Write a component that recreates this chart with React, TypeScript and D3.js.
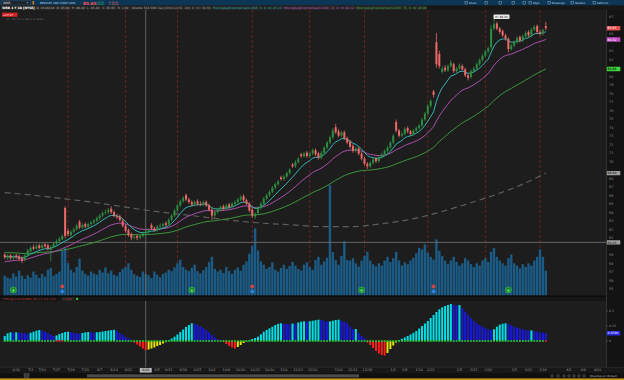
import React from "react";
import * as d3 from "d3";

// ---------- DATA ----------
const symbol = "WRB";
const company = "BERKLEY (WR) CORP COM";

const opens = [59.0,58.6,58.9,58.6,58.9,58.8,58.6,58.4,58.9,59.4,
59.9,59.7,60.1,59.8,60.2,60.1,59.6,59.9,60.3,60.6,
60.8,64.5,61.8,61.3,61.7,62.0,62.9,62.2,62.6,62.3,
62.6,62.8,63.0,63.3,63.6,63.9,64.0,64.4,64.0,63.5,
63.5,63.0,62.4,61.9,61.4,61.0,61.2,61.0,61.2,61.5,
61.7,62.5,62.1,61.9,62.3,62.4,62.7,62.6,63.1,63.6,
64.2,64.8,65.3,66.0,65.5,65.2,64.9,65.3,65.0,64.9,
65.2,64.8,64.3,63.6,64.0,64.3,64.7,64.4,64.9,64.6,
65.0,65.2,65.5,65.9,65.4,65.0,64.3,63.5,63.9,64.5,
65.0,65.6,66.0,66.4,66.9,67.3,68.1,67.9,68.2,68.6,
69.6,69.4,69.9,70.8,70.6,71.0,70.6,70.9,71.3,70.9,
70.4,71.0,71.6,72.2,72.8,74.0,73.5,73.0,73.4,72.7,
72.3,71.8,71.2,71.5,70.9,70.3,69.7,69.4,69.8,70.3,
70.0,70.5,70.8,71.2,71.6,72.2,74.6,73.6,73.0,73.2,
73.9,73.5,73.2,73.6,73.9,74.2,74.9,75.6,76.5,78.2,
84.0,82.6,80.5,81.0,80.7,81.2,81.4,80.6,80.9,81.2,
80.8,80.1,79.9,80.6,80.9,81.4,81.9,82.4,82.9,83.4,
85.6,86.2,85.6,85.3,84.8,84.4,83.2,83.6,84.0,84.6,
84.2,84.7,85.2,84.8,85.5,85.9,85.2,85.0,85.9];

const highs = [59.2,59.1,59.1,59.0,59.1,59.0,58.8,59.1,59.7,60.0,
60.2,60.3,60.3,60.4,60.4,60.3,60.1,60.5,60.8,61.1,
61.4,64.7,62.1,61.9,62.2,62.6,63.1,62.7,62.8,62.8,
63.0,63.2,63.5,63.8,64.1,64.3,64.5,64.7,64.2,63.8,
63.7,63.2,62.6,62.1,61.6,61.4,61.4,61.4,61.7,61.9,
62.1,62.7,62.3,62.5,62.7,62.8,62.9,63.3,63.8,64.4,
65.0,65.5,65.9,66.2,65.7,65.4,65.4,65.5,65.3,65.4,
65.4,65.0,64.5,64.2,64.5,64.8,64.9,65.0,65.1,65.2,
65.4,65.7,66.0,66.1,65.6,65.2,64.5,64.0,64.7,65.2,
65.8,66.2,66.6,67.1,67.5,67.8,68.3,68.4,68.8,69.2,
69.8,70.1,70.5,71.0,71.1,71.2,71.1,71.5,71.5,71.1,
71.2,71.8,72.4,73.0,73.9,74.4,73.8,73.6,73.6,72.9,
72.5,72.0,71.7,71.7,71.1,70.5,69.9,70.0,70.4,70.5,
70.7,71.0,71.4,71.8,72.4,73.2,74.9,73.8,73.5,74.0,
74.1,73.7,73.8,74.1,74.4,75.1,75.8,76.7,77.3,78.4,
85.1,83.0,81.2,81.3,81.4,81.9,81.6,81.1,81.5,81.4,
81.0,80.3,80.8,81.1,81.6,82.1,82.6,83.1,83.5,86.0,
86.6,86.4,85.8,85.5,85.0,84.6,83.8,84.2,84.7,84.8,
84.9,85.3,85.4,85.7,86.0,86.1,85.5,85.6,86.4];

const lows = [58.5,58.4,58.4,58.3,58.5,58.3,58.0,58.2,58.8,59.3,
59.5,59.6,59.6,59.7,59.8,59.5,58.2,59.8,60.1,60.4,
60.7,60.9,61.2,61.0,61.5,61.8,62.0,62.0,62.1,62.1,
62.4,62.6,62.8,63.1,63.4,63.7,63.8,63.8,63.4,63.2,
62.9,62.2,61.6,61.1,60.7,60.8,60.7,60.8,61.0,61.3,
61.5,61.9,61.7,61.7,62.1,62.2,62.3,62.4,62.9,63.4,
64.0,64.6,65.1,65.3,65.0,64.7,64.7,64.8,64.7,64.7,
64.6,64.1,63.1,63.4,63.8,64.1,64.2,64.2,64.4,64.4,
64.8,65.0,65.3,65.2,64.8,64.0,63.3,63.2,63.7,64.3,
64.8,65.4,65.8,66.2,66.7,67.1,67.7,67.7,68.0,68.4,
69.2,69.2,69.7,70.4,70.4,70.4,70.4,70.7,70.6,70.2,
70.2,70.8,71.4,72.0,72.6,73.2,72.8,72.8,72.5,72.0,
71.5,71.0,71.0,70.7,70.1,69.5,69.1,69.2,69.6,69.8,
69.8,70.3,70.6,71.0,71.4,72.0,73.4,72.8,72.8,73.0,
73.3,73.0,73.0,73.4,73.7,74.0,74.7,75.4,76.3,77.5,
81.0,80.9,80.3,80.5,80.5,81.0,80.4,80.4,80.7,80.6,
79.9,79.5,79.7,80.4,80.7,81.2,81.7,82.2,82.7,83.2,
85.4,85.4,85.0,84.6,84.2,82.8,83.0,83.4,83.8,84.0,
84.0,84.5,84.6,84.6,85.3,85.0,84.8,84.8,85.4];

const closes = [58.7,58.9,58.6,58.8,58.7,58.5,58.3,58.9,59.5,59.8,
59.7,60.0,59.8,60.1,60.0,59.7,59.9,60.3,60.6,60.9,
61.2,61.2,61.4,61.7,62.0,62.4,62.2,62.5,62.3,62.6,
62.8,63.0,63.3,63.6,63.9,64.0,64.3,64.0,63.6,63.4,
63.1,62.4,61.8,61.3,61.0,61.1,61.0,61.2,61.5,61.7,
61.9,62.1,61.9,62.3,62.4,62.6,62.5,63.1,63.6,64.2,
64.8,65.3,65.7,65.5,65.2,64.9,65.2,65.0,64.9,65.2,
64.8,64.3,63.6,64.0,64.3,64.6,64.4,64.8,64.6,65.0,
65.2,65.5,65.8,65.4,65.0,64.2,63.6,63.8,64.5,65.0,
65.6,66.0,66.4,66.9,67.3,67.6,67.9,68.2,68.6,69.0,
69.4,69.9,70.3,70.6,70.9,70.6,70.9,71.3,70.8,70.4,
71.0,71.6,72.2,72.8,73.6,73.4,73.0,73.4,72.7,72.2,
71.7,71.2,71.5,70.9,70.3,69.7,69.4,69.8,70.2,70.0,
70.5,70.8,71.2,71.6,72.2,73.0,73.6,73.0,73.2,73.8,
73.5,73.2,73.6,73.9,74.2,74.9,75.6,76.5,77.1,77.8,
81.4,81.2,80.9,80.7,81.2,81.6,80.6,80.9,81.3,80.8,
80.1,79.8,80.6,80.9,81.4,81.9,82.4,82.9,83.3,85.6,
86.1,85.6,85.2,84.8,84.4,83.2,83.6,84.0,84.5,84.2,
84.7,85.1,84.8,85.5,85.8,85.2,85.0,85.4,85.65];

// volume in thousands of shares
const volumes = [430,390,370,480,410,540,430,360,440,390,
520,450,380,470,410,560,600,430,470,520,
980,1030,700,560,500,620,800,540,470,430,
520,480,450,560,500,610,480,540,450,420,
510,580,620,700,560,460,430,400,520,470,
440,380,520,450,400,470,500,560,530,610,
700,780,620,560,530,600,670,530,480,550,
620,730,840,580,520,560,490,620,530,470,
560,610,540,670,740,910,1080,1460,980,740,
670,580,620,720,560,520,600,670,580,640,
730,650,580,540,670,720,620,560,770,840,
670,740,820,2400,940,770,670,860,1180,770,
760,810,700,630,760,860,950,760,680,630,
700,650,760,840,730,810,950,760,650,720,
680,760,820,920,1030,1000,1110,930,840,780,
1220,970,860,760,680,760,840,730,650,700,
810,760,680,620,700,650,760,810,730,950,
1030,840,760,700,650,810,890,700,650,590,
680,620,700,650,760,840,1000,840,540];

// TTM squeeze momentum histogram
const squeeze = [0.05,0.077,0.087,0.083,0.087,0.083,0.08,0.077,0.073,0.083,
0.093,0.103,0.11,0.103,0.093,0.08,0.065,0.05,0.055,0.07,
0.08,0.09,0.093,0.087,0.083,0.077,0.073,0.08,0.087,0.09,
0.086,0.083,0.087,0.09,0.095,0.10,0.104,0.108,0.112,0.10,
0.08,0.06,0.04,0.025,0.008,-0.015,-0.035,-0.055,-0.075,-0.09,
-0.085,-0.075,-0.065,-0.05,-0.04,-0.025,-0.012,0.01,0.025,0.043,
0.065,0.09,0.115,0.14,0.16,0.177,0.172,0.162,0.148,0.13,
0.11,0.085,0.06,0.035,0.018,0.006,-0.01,-0.03,-0.05,-0.065,
-0.075,-0.06,-0.04,-0.02,-0.005,0.01,0.02,0.03,0.043,0.067,
0.093,0.11,0.127,0.143,0.16,0.172,0.177,0.173,0.17,0.167,
0.175,0.172,0.185,0.193,0.197,0.193,0.198,0.203,0.208,0.213,
0.21,0.202,0.193,0.196,0.203,0.21,0.213,0.205,0.193,0.177,
0.143,0.117,0.12,0.077,0.05,0.027,-0.015,-0.04,-0.07,-0.10,
-0.125,-0.14,-0.145,-0.12,-0.08,-0.045,-0.015,0.008,0.022,0.035,
0.05,0.065,0.082,0.10,0.125,0.15,0.175,0.20,0.23,0.26,
0.29,0.317,0.337,0.35,0.36,0.37,0.363,0.355,0.36,0.327,
0.293,0.26,0.227,0.203,0.177,0.16,0.143,0.127,0.117,0.11,
0.117,0.143,0.163,0.173,0.177,0.17,0.157,0.143,0.133,0.123,
0.117,0.11,0.103,0.106,0.097,0.092,0.087,0.082,0.078];
const squeezeOnIdx = [18, 19, 20, 188];
const squeezeTicks = [0, 0.15, 0.3];

// daily SMA(200) sampled every 10 bars
const sma200Idx = [0,10,20,30,40,50,60,70,80,90,100,110,120,130,140,150,160,170,180,188];
const sma200 = [66.3,66.0,65.6,65.2,64.7,64.2,63.8,63.4,63.0,62.7,62.5,62.3,62.3,62.6,63.1,63.9,64.9,66.0,67.3,68.6];

const emaPeriods = [8, 21, 55];
const emaSeeds = [58.8, 58.1, 59.3];

const expirationIdx = [22, 42, 60, 86, 106, 125, 147, 167, 186];
const dateLabels = ["6/26","7/3","7/10","7/17","7/24","7/31","8/7","8/14","8/21","9/5","9/11","9/18","9/25","10/2","10/9","10/16","10/23","10/30","11/6","11/13","11/20","12/4","12/11","12/18","1/2","1/8","1/16","1/22","2/5","2/12","2/20","3/5","3/12","3/19","4/2","4/9","4/16"];
const dateIdx = [4,9,13,18,23,28,33,38,43,53,57,62,67,72,77,82,87,92,97,102,107,116,121,126,135,139,144,148,158,163,168,177,182,187,196,201,206];
const earningsIdx = [3, 65, 124, 175];
const dividendIdx = [20, 86, 149];
const priceLevel = 60.45;
const crosshairIdx = 49;
const crosshairLabel = "8/29";

function ema(vals: number[], period: number, seed: number) {
  const a = 2 / (period + 1);
  let prev = seed;
  return vals.map((v) => (prev = prev + a * (v - prev)));
}

export default function App() {
  const N = closes.length;
  const last = N - 1;
  const W = 624, H = 380;
  const plotR = 606;
  const paneTop = 10, paneBot = 296;
  const lowTop = 301, lowBot = 367;

  const x = d3.scaleLinear().domain([0, N - 1]).range([4.7, 545.8]);
  const yP = d3.scaleLinear().domain([55, 87]).range([288.7, 16.7]);
  const yV = d3.scaleLinear().domain([0, 2400]).range([295.5, 185]);
  const yS = d3.scaleLinear().domain([-0.26, 0.4]).range([lowBot, lowTop]);

  const emas = emaPeriods.map((p, k) => ema(closes, p, emaSeeds[k]));
  const emaColors = ["#35b6b6", "#ac4fac", "#3d963d"];
  const lineGen = d3.line<number>().x((_, i) => x(i)).y((v) => yP(v));
  const smaGen = d3.line<number>().x((_, j) => x(sma200Idx[j])).y((v) => yP(v)).curve(d3.curveMonotoneX);
  const fmt = d3.format(".2f");

  const UP = "#2c8c3f", DN = "#ef6868";
  const bw = 2.0;

  const sqColor = (i: number) => {
    const v = squeeze[i];
    const p = i > 0 ? squeeze[i - 1] : v;
    if (v >= 0) return v >= p ? "#00dfe6" : "#1818dc";
    return v <= p ? "#ff1c1c" : "#e4e400";
  };

  // study label row
  const fs2 = 3.0;
  const items = [
    { t: `${symbol} 1 Y 1D [NYSE]`, c: "#ffffff", bold: true },
    { t: `D: 03/20/18`, c: "#bbbbbb" },
    { t: `O: ${fmt(opens[last])}`, c: "#bbbbbb" },
    { t: `H: ${fmt(highs[last])}`, c: "#bbbbbb" },
    { t: `L: ${fmt(lows[last])}`, c: "#bbbbbb" },
    { t: `C: ${fmt(closes[last])}`, c: "#bbbbbb" },
    { t: `R: ${fmt(highs[last] - lows[last])}`, c: "#bbbbbb" },
    { t: `Volume`, c: "#bbbbbb" },
    { t: d3.format(",")(volumes[last] * 1000 + 4509), c: "#bbbbbb" },
    { t: `DailySMA(CLOSE, 200, 0, no)`, c: "#9a9a9a" },
    { t: fmt(sma200[sma200.length - 1]), c: "#9a9a9a" },
    { t: `MovingAvgExponential(CLOSE, 8, 0, no)`, c: emaColors[0] },
    { t: fmt(emas[0][last]), c: emaColors[0] },
    { t: `MovingAvgExponential(CLOSE, 21, 0, no)`, c: "#c060c0" },
    { t: fmt(emas[1][last]), c: "#c060c0" },
    { t: `MovingAvgExponential(CLOSE, 55, 0, no)`, c: "#4fb04f" },
    { t: fmt(emas[2][last]), c: "#4fb04f" },
  ];
  let cx = 1;
  const boxes = items.map((it) => {
    const w = it.t.length * (it.bold ? 1.85 : 1.55) + 2.4;
    const b = { ...it, x: cx, w };
    cx += w + 0.5;
    return b;
  });

  const axisMarks = [
    { v: closes[last], fill: "#e0504f", tc: "#fff" },
    { v: emas[1][last], fill: "#c34ec3", tc: "#fff" },
    { v: emas[2][last], fill: "#3fd23f", tc: "#000" },
    { v: sma200[sma200.length - 1], fill: "#a0a0a0", tc: "#000" },
    { v: priceLevel, fill: "#a0a0a0", tc: "#000" },
  ];
  const priceTicks = yP.ticks(32).filter((t) => axisMarks.every((m) => Math.abs(yP(t) - yP(m.v)) > 4.2));

  const iconTexts = [
    { t: "Share", x: 469 },
    { t: "Style", x: 533 },
    { t: "Drawings", x: 552 },
    { t: "Studies", x: 575 },
    { t: "Patterns", x: 597 },
  ];

  const hiVal = d3.max(highs) as number;
  const hiIdx = highs.indexOf(hiVal);

  return (
    <div style={{ width: W, height: H }}>
      <style>{`html,body{margin:0;padding:0;background:#1c1c1c;}`}</style>
      <svg width={W} height={H} style={{ display: "block", fontFamily: '"DejaVu Sans", sans-serif' }}>
        <rect x={0} y={0} width={W} height={H} fill="#1d1d1d" />

        {/* top header */}
        <rect x={0} y={0} width={W} height={5.5} fill="#0c3656" />
        <rect x={1.5} y={0.7} width={29} height={4.2} fill="#1b2530" stroke="#4a5a6a" strokeWidth={0.3} />
        <text x={3} y={3.9} fontSize={3.1} fill="#e0e0e0">{symbol}</text>
        <path d="M26.5,2.3 L28.5,2.3 L27.5,3.5 Z" fill="#aaa" />
        <rect x={32.5} y={1} width={1.6} height={3.6} fill="#c87a22" />
        <text x={40} y={3.7} fontSize={2.7} fill="#c9d6e2">{company}</text>
        <text x={83} y={4.5} fontSize={4.3} fontWeight="bold" fill="#ff5656">{fmt(closes[last])}</text>
        <text x={97} y={2.5} fontSize={2.2} fill="#3ccf6a">{`+0.05`}</text>
        <text x={97} y={4.8} fontSize={2.2} fill="#3ccf6a">{`0.06%`}</text>
        <text x={109} y={2.5} fontSize={2.2} fill="#ff6a6a">{`B: 85.61`}</text>
        <text x={109} y={4.8} fontSize={2.2} fill="#ff6a6a">{`A: 85.69`}</text>
        {iconTexts.map((d, k) => (
          <g key={k}>
            <rect x={d.x - 4} y={1.4} width={2.6} height={2.6} fill="none" stroke="#c8d4e0" strokeWidth={0.35} />
            <text x={d.x} y={3.7} fontSize={2.7} fill="#d5dde5">{d.t}</text>
          </g>
        ))}
        {[485, 499, 512, 523].map((px, k) => (
          <rect key={k} x={px} y={1.3} width={2.8} height={2.8} fill="none" stroke="#c8d4e0" strokeWidth={0.35} />
        ))}

        {/* study label row */}
        <rect x={0} y={5.5} width={W} height={4.5} fill="#171717" />
        {boxes.map((b, k) => (
          <g key={k}>
            <rect x={b.x} y={5.9} width={b.w} height={3.7} fill={k === 0 ? "#2c2c2c" : "#222"} stroke="#3a3a3a" strokeWidth={0.3} />
            <text x={b.x + 1.2} y={8.75} fontSize={fs2} fontWeight={b.bold ? "bold" : "normal"} fill={b.c}>{b.t}</text>
          </g>
        ))}

        {/* right axis background */}
        <rect x={plotR} y={paneTop} width={W - plotR} height={lowBot - paneTop} fill="#131313" />
        <line x1={plotR + 0.5} x2={plotR + 0.5} y1={paneTop} y2={lowBot} stroke="#3a3a3a" strokeWidth={0.8} />

        {/* expiration lines */}
        {expirationIdx.map((i, k) => (
          <line key={k} x1={x(i)} x2={x(i)} y1={paneTop} y2={paneBot} stroke="#7d2323" strokeWidth={0.8} strokeDasharray="3,2" />
        ))}

        {/* volume */}
        {volumes.map((v, i) => (
          <rect key={i} x={x(i) - 1.2} y={yV(v)} width={2.4} height={yV(0) - yV(v)} fill="#1c5b85" />
        ))}

        {/* price level & crosshair */}
        <line x1={0} x2={plotR} y1={yP(priceLevel)} y2={yP(priceLevel)} stroke="#6c6c6c" strokeWidth={0.9} />
        <line x1={x(crosshairIdx)} x2={x(crosshairIdx)} y1={paneTop} y2={lowBot} stroke="#6c6c6c" strokeWidth={0.9} />

        {/* SMA 200 dashed */}
        <path d={smaGen(sma200) || ""} fill="none" stroke="#5e5e5e" strokeWidth={1.2} strokeDasharray="6,4" />

        {/* EMAs */}
        {[2, 1, 0].map((k) => (
          <path key={k} d={lineGen(emas[k]) || ""} fill="none" stroke={emaColors[k]} strokeWidth={1} />
        ))}

        {/* candles */}
        {closes.map((c, i) => {
          const o = opens[i];
          const col = c >= o ? UP : DN;
          const top = yP(Math.max(o, c));
          const bot = yP(Math.min(o, c));
          return (
            <g key={i}>
              <line x1={x(i)} x2={x(i)} y1={yP(highs[i])} y2={yP(lows[i])} stroke={col} strokeWidth={0.8} />
              <rect x={x(i) - bw / 2} y={top} width={bw} height={Math.max(0.7, bot - top)} fill={col} />
            </g>
          );
        })}

        {/* earnings & dividends */}
        {earningsIdx.map((i, k) => (
          <g key={k}>
            <circle cx={x(i)} cy={290} r={3} fill="#1d7f2c" stroke="#3ccf4f" strokeWidth={0.6} />
            <circle cx={x(i)} cy={290.5} r={1.2} fill="#5be06a" />
          </g>
        ))}
        {dividendIdx.map((i, k) => (
          <g key={k}>
            <circle cx={x(i)} cy={286.5} r={2} fill="#c84848" />
            <circle cx={x(i)} cy={291.5} r={2} fill="#2d7fd8" />
          </g>
        ))}

        {/* high bubble */}
        <rect x={493.5} y={14.6} width={16} height={4.4} rx={0.8} fill="#e8e8e8" />
        <text x={495} y={17.9} fontSize={2.8} fill="#222">{`Hi: ${fmt(hiVal)}`}</text>
        <line x1={x(hiIdx)} x2={x(hiIdx)} y1={19} y2={yP(hiVal)} stroke="#e8e8e8" strokeWidth={0.4} />

        {/* top-left overlay */}
        <rect x={2} y={12.6} width={15.5} height={4.2} fill="#d22424" />
        <text x={3} y={15.7} fontSize={2.7} fill="#fff">{`+27.27`}</text>
        <text x={6} y={20} fontSize={2.4} fill="#6f6f6f">{`1Y: +46.7%  Lo: 58.00  Hi: 86.60`}</text>

        {/* price axis labels */}
        {priceTicks.map((t) => (
          <text key={t} x={609} y={yP(t) + 1.3} fontSize={3.4} fill="#8f8f8f">{t}</text>
        ))}
        {axisMarks.map((m, k) => (
          <g key={k}>
            <rect x={606.8} y={yP(m.v) - 2.2} width={13.5} height={4.4} rx={0.5} fill={m.fill} />
            <text x={607.6} y={yP(m.v) + 1.2} fontSize={3.1} fill={m.tc}>{fmt(m.v)}</text>
          </g>
        ))}

        {/* pane separator / lower header */}
        <rect x={0} y={paneBot - 0.5} width={plotR} height={1.5} fill="#0b0b0b" />
        <rect x={0} y={paneBot + 1} width={plotR} height={lowTop - paneBot - 1} fill="#151515" />
        <text x={3} y={299.9} fontSize={2.7} fill="#d23a3a">{`TTM_Squeeze(CLOSE, 20, 1.5, 2.0, 1.0)`}</text>
        <rect x={62} y={297.4} width={13} height={3.2} fill="#222" stroke="#3a3a3a" strokeWidth={0.3} />
        <text x={63} y={299.9} fontSize={2.5} fill="#d23a3a">{squeeze[last].toFixed(4)}</text>
        <rect x={76} y={297.8} width={2.2} height={2.2} fill="#2ec02e" />

        {/* squeeze histogram */}
        {squeeze.map((v, i) => (
          <rect key={i} x={x(i) - 1} y={Math.min(yS(v), yS(0))} width={2} height={Math.abs(yS(v) - yS(0))} fill={sqColor(i)} />
        ))}
        {squeeze.map((_, i) => (
          <rect key={i} x={x(i) - 0.9} y={yS(0) - 0.9} width={1.8} height={1.8} fill={squeezeOnIdx.includes(i) ? "#e02020" : "#2bbf2b"} />
        ))}
        {squeezeTicks.map((t) => (
          <g key={t}>
            <line x1={606} x2={608} y1={yS(t)} y2={yS(t)} stroke="#666" strokeWidth={0.5} />
            <text x={609} y={yS(t) + 1.2} fontSize={3.2} fill="#8f8f8f">{t}</text>
          </g>
        ))}
        <rect x={606.8} y={yS(squeeze[last]) - 2.2} width={13.5} height={4.4} rx={0.5} fill="#2a2ae0" />
        <text x={607.6} y={yS(squeeze[last]) + 1.2} fontSize={3.0} fill="#fff">{squeeze[last].toFixed(4)}</text>

        {/* time axis */}
        <rect x={0} y={lowBot} width={W} height={6} fill="#181818" />
        <line x1={0} x2={W} y1={lowBot + 0.3} y2={lowBot + 0.3} stroke="#333" strokeWidth={0.6} />
        {dateLabels.map((d, k) => (
          <text key={k} x={x(dateIdx[k])} y={371.4} fontSize={3.3} fill="#9a9a9a" textAnchor="middle">{d}</text>
        ))}
        <rect x={x(crosshairIdx) - 6} y={368} width={12} height={4.6} fill="#b5b5b5" />
        <text x={x(crosshairIdx)} y={371.4} fontSize={3.2} fill="#111" textAnchor="middle">{crosshairLabel}</text>

        {/* scroll row */}
        <rect x={0} y={373} width={W} height={5.4} fill="#101010" />
        <rect x={24} y={373.8} width={5} height={3.8} fill="#3a3a3a" stroke="#777" strokeWidth={0.3} />
        <rect x={87} y={374.3} width={272} height={3} fill="#4c4c4c" />
        {[552, 558, 564, 569, 574, 579, 584].map((px, k) => (
          <circle key={k} cx={px} cy={375.8} r={1.2} fill="none" stroke="#aaa" strokeWidth={0.35} />
        ))}
        <text x={590} y={376.8} fontSize={2.6} fill="#bbb">{`Drawing set: Default`}</text>
        <rect x={0} y={378.4} width={W} height={1.6} fill="#c9961f" />
      </svg>
    </div>
  );
}
